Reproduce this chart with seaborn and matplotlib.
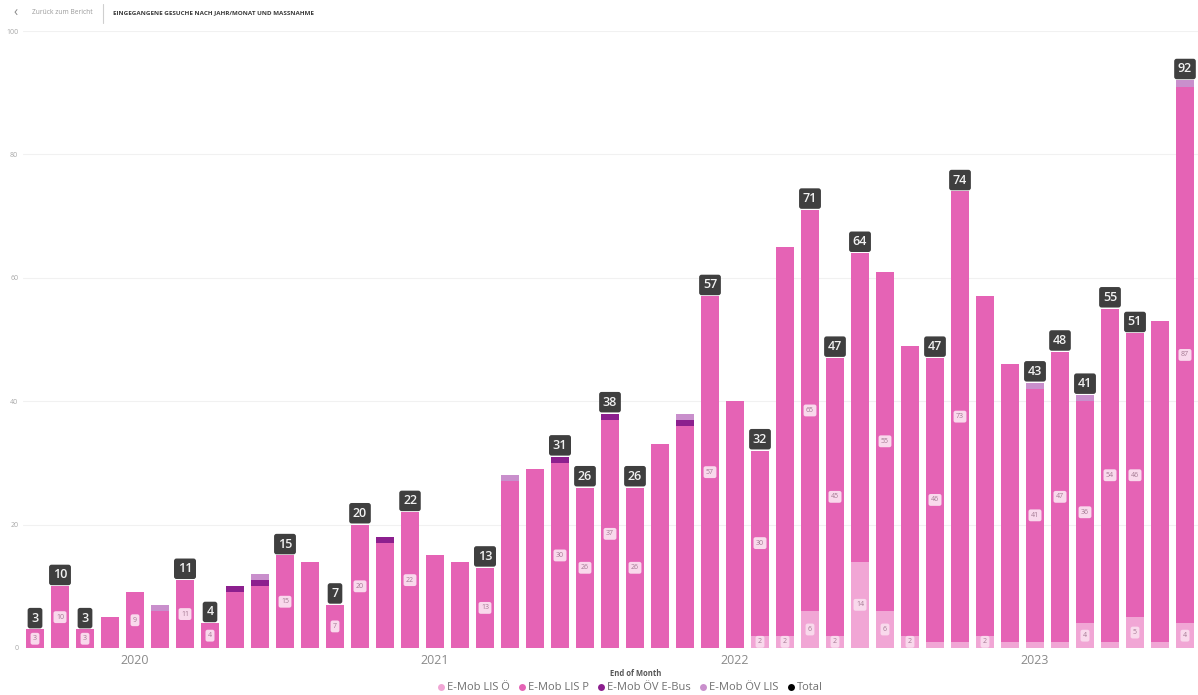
import numpy as np
import pandas as pd
import matplotlib
matplotlib.use("Agg")
import matplotlib.pyplot as plt
from matplotlib.lines import Line2D
import seaborn as sns

# Monthly applications (end-of-month dates), Aug 2019 - Jun 2023
months = pd.date_range("2019-08-31", periods=47, freq="ME")
month_labels = [d.strftime("%Y-%m") for d in months]

lis_oe = [0] * 29 + [2, 2, 6, 2, 14, 6, 2, 1, 1, 2, 1, 1, 1, 4, 1, 5, 1, 4]
lis_p = [3, 10, 3, 5, 9, 6, 11, 4, 9, 10, 15, 14, 7, 20, 17, 22, 15, 14, 13, 27,
         29, 30, 26, 37, 26, 33, 36, 57, 40, 30, 63, 65, 45, 50, 55, 47, 46, 73, 55, 45,
         41, 47, 36, 54, 46, 52, 87]
oev_ebus = [0, 0, 0, 0, 0, 0, 0, 0, 1, 1, 0, 0, 0, 0, 1, 0, 0, 0, 0, 0,
            0, 1, 0, 1, 0, 0, 1, 0, 0, 0, 0, 0, 0, 0, 0, 0, 0, 0, 0, 0,
            0, 0, 0, 0, 0, 0, 0]
oev_lis = [0, 0, 0, 0, 0, 1, 0, 0, 0, 1, 0, 0, 0, 0, 0, 0, 0, 0, 0, 1,
           0, 0, 0, 0, 0, 0, 1, 0, 0, 0, 0, 0, 0, 0, 0, 0, 0, 0, 0, 0,
           1, 0, 1, 0, 0, 0, 1]

series_names = ["E-Mob LIS Ö", "E-Mob LIS P", "E-Mob ÖV E-Bus", "E-Mob ÖV LIS", "Total"]

# Bars whose labels are displayed
total_label_idx = [0, 1, 2, 6, 7, 10, 12, 13, 15, 18, 21, 22, 23, 24, 27, 29, 31, 32,
                   33, 36, 37, 40, 41, 42, 43, 44, 46]
p_label_idx = [0, 1, 2, 4, 6, 7, 10, 12, 13, 15, 18, 21, 22, 23, 24, 27, 29, 31, 32,
               34, 36, 37, 40, 41, 42, 43, 44, 46]
oe_label_idx = [29, 30, 31, 32, 33, 34, 35, 38, 42, 44, 46]

colors = {
    "E-Mob LIS Ö": "#F1A6D5",
    "E-Mob LIS P": "#E563B5",
    "E-Mob ÖV E-Bus": "#8C1F8E",
    "E-Mob ÖV LIS": "#C98FCC",
    "Total": "#000000",
}

sns.set_theme(style="white")
plt.rcParams["font.family"] = ["Open Sans", "DejaVu Sans"]

oe = np.array(lis_oe)
p = np.array(lis_p)
eb = np.array(oev_ebus)
ol = np.array(oev_lis)
total = oe + p + eb + ol

fig = plt.figure(figsize=(11.98, 6.95), dpi=100)
ax = fig.add_axes([22.5 / 1198, 1 - 648 / 695, 1175 / 1198, 617 / 695])

# Stacked bars: draw cumulative heights from the top segment down
layers = [
    ("E-Mob ÖV LIS", oe + p + eb + ol),
    ("E-Mob ÖV E-Bus", oe + p + eb),
    ("E-Mob LIS P", oe + p),
    ("E-Mob LIS Ö", oe),
]
for name, vals in layers:
    sns.barplot(x=month_labels, y=vals, order=month_labels, color=colors[name],
                saturation=1, width=0.72, errorbar=None, ax=ax, linewidth=0)

ax.set_ylim(0, 100)
ax.set_xlim(-0.5, len(months) - 0.5)
ax.set_yticks([0, 20, 40, 60, 80, 100])
ax.yaxis.grid(True, color="#f1f1f1", linewidth=0.8)
ax.set_axisbelow(True)
ax.tick_params(axis="y", length=0, pad=3, labelsize=5, labelcolor="#a8a8a8")

# Year ticks at the turn of each year
year_pos = [i for i, d in enumerate(months) if d.month == 12]
year_lab = [str(months[i].year + 1) for i in year_pos]
ax.set_xticks(year_pos)
ax.set_xticklabels(year_lab)
ax.tick_params(axis="x", length=0, pad=4, labelsize=9, labelcolor="#8a8a8a")
ax.set_xlabel("")
ax.set_ylabel("")
sns.despine(ax=ax, left=True, bottom=True)

# Total labels above bars
for i in total_label_idx:
    ax.annotate(str(total[i]), (i, total[i]), xytext=(0, 3.5), textcoords="offset points",
                ha="center", va="bottom", fontsize=9, fontweight="semibold", color="#f2f2f2",
                bbox=dict(boxstyle="round,pad=0.3,rounding_size=0.2", fc="#3f3f3f", ec="none"))

inner_box = dict(boxstyle="round,pad=0.35,rounding_size=0.3", fc="#F9D9EC", ec="none")
for i in p_label_idx:
    ax.text(i, oe[i] + p[i] / 2, str(p[i]), ha="center", va="center", fontsize=5,
            color="#a47a93", bbox=inner_box)
for i in oe_label_idx:
    ax.text(i, oe[i] / 2, str(oe[i]), ha="center", va="center", fontsize=5,
            color="#a47a93", bbox=inner_box)

# Header
fig.text(13 / 1198, 1 - 13 / 695, "‹", fontsize=10, color="#8a8a8a", va="center", ha="left")
fig.text(32 / 1198, 1 - 13 / 695, "Zurück zum Bericht", fontsize=4.8, color="#9a9a9a",
         va="center", ha="left")
fig.add_artist(Line2D([103 / 1198, 103 / 1198], [1 - 4 / 695, 1 - 23 / 695],
                      color="#cfcfcf", linewidth=0.8, transform=fig.transFigure))
fig.text(113 / 1198, 1 - 13 / 695, "EINGEGANGENE GESUCHE NACH JAHR/MONAT UND MASSNAHME",
         fontsize=4.5, fontweight="bold", color="#3a3a3a", va="center", ha="left")

# Axis title and legend
fig.text(636 / 1198, 1 - 673 / 695, "End of Month", fontsize=5.5, fontweight="bold",
         color="#555555", ha="center", va="center")
handles = [Line2D([], [], marker="o", linestyle="none", markersize=5,
                  markerfacecolor=colors[n], markeredgecolor="none") for n in series_names]
fig.legend(handles, series_names, loc="center", bbox_to_anchor=(629 / 1198, 1 - 688 / 695),
           ncol=5, frameon=False, fontsize=8, labelcolor="#707070",
           handletextpad=0.05, columnspacing=0.6, handlelength=1.0, borderaxespad=0)

fig.savefig("out.png", dpi=100, facecolor="white")
